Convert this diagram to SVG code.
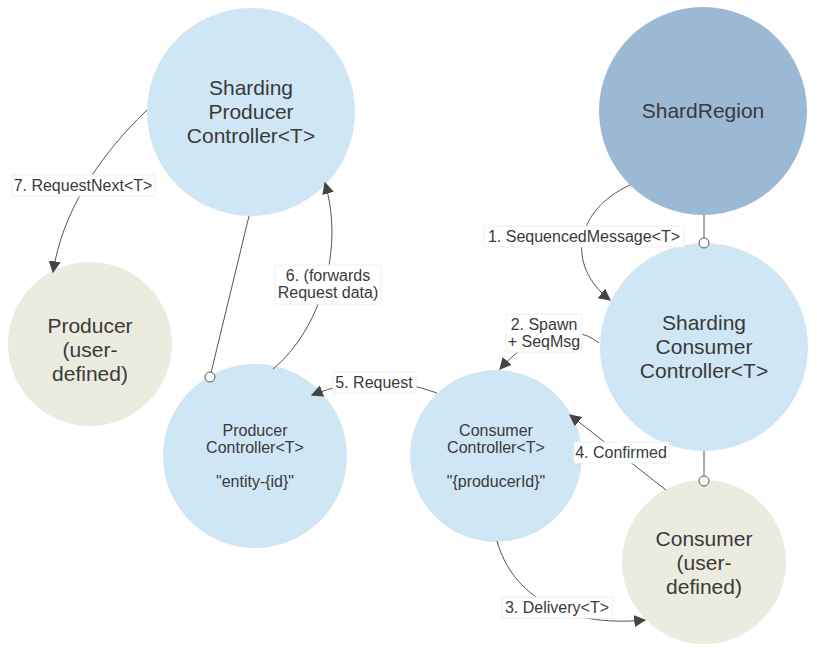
<svg xmlns="http://www.w3.org/2000/svg" width="817" height="659" viewBox="0 0 817 659">
<defs>
<style>
.n{fill:#cfe6f5}
.u{fill:#ebebdf}
.big{font-family:"Liberation Sans",Arial,sans-serif;font-size:21px;fill:#3a3a3a;text-anchor:middle}
.sm{font-family:"Liberation Sans",Arial,sans-serif;font-size:16px;fill:#3a3a3a;text-anchor:middle}
.lb{font-family:"Liberation Sans",Arial,sans-serif;font-size:16px;fill:#3a3a3a;text-anchor:middle}
.e{fill:none;stroke:#555;stroke-width:1}
.bg{fill:#fff;stroke:#f0f0f0;stroke-width:1}
.dot{fill:#fff;stroke:#555;stroke-width:1}
</style>
<marker id="ah" viewBox="0 0 10 10" refX="9" refY="5" markerWidth="12" markerHeight="12" markerUnits="userSpaceOnUse" orient="auto">
<path d="M0,0 L10,5 L0,10 z" fill="#444"/>
</marker>
</defs>
<rect width="817" height="659" fill="#fff"/>
<g id="n-spc"><circle class="n" cx="251" cy="112" r="104"/><text class="big"><tspan x="251" y="95">Sharding</tspan><tspan x="251" y="119">Producer</tspan><tspan x="251" y="143">Controller&lt;T&gt;</tspan></text></g>
<g id="n-sr"><circle cx="703" cy="111" r="104" fill="#9bb9d4"/><text class="big" x="703" y="118">ShardRegion</text></g>
<g id="n-prod"><circle class="u" cx="90" cy="344" r="82"/><text class="big"><tspan x="90" y="333">Producer</tspan><tspan x="90" y="357">(user-</tspan><tspan x="90" y="381">defined)</tspan></text></g>
<g id="n-pc"><circle class="n" cx="255" cy="456" r="92"/><text class="sm"><tspan x="255" y="436">Producer</tspan><tspan x="255" y="453">Controller&lt;T&gt;</tspan><tspan x="255" y="487">"entity-{id}"</tspan></text></g>
<g id="n-cc"><circle class="n" cx="496" cy="456" r="86"/><text class="sm"><tspan x="496" y="436">Consumer</tspan><tspan x="496" y="453">Controller&lt;T&gt;</tspan><tspan x="496" y="487">"{producerId}"</tspan></text></g>
<g id="n-scc"><circle class="n" cx="704" cy="347" r="104"/><text class="big"><tspan x="704" y="330">Sharding</tspan><tspan x="704" y="354">Consumer</tspan><tspan x="704" y="378">Controller&lt;T&gt;</tspan></text></g>
<g id="n-cons"><circle class="u" cx="704" cy="562" r="82"/><text class="big"><tspan x="704" y="546">Consumer</tspan><tspan x="704" y="570">(user-</tspan><tspan x="704" y="594">defined)</tspan></text></g>
<g id="edges">
<line class="e" x1="704" y1="215" x2="704" y2="243"/><circle class="dot" cx="704" cy="243" r="5"/>
<line class="e" x1="704" y1="451" x2="704" y2="481"/><circle class="dot" cx="704" cy="481" r="5"/>
<line class="e" x1="249" y1="216" x2="210" y2="377"/><circle class="dot" cx="210" cy="377" r="5"/>
<path class="e" d="M147,110 C95,160 62,215 53,272" marker-end="url(#ah)"/>
<rect class="bg" x="12" y="175" width="143" height="21"/><text class="lb" x="83" y="191">7. RequestNext&lt;T&gt;</text>
<path class="e" d="M630,185 C575,210 565,265 610,300" marker-end="url(#ah)"/>
<rect class="bg" x="484" y="226" width="200" height="21"/><text class="lb" x="584" y="242">1. SequencedMessage&lt;T&gt;</text>
<path class="e" d="M599,343 C570,320 530,335 500,369" marker-end="url(#ah)"/>
<rect class="bg" x="506" y="314" width="76" height="38"/><text class="lb"><tspan x="544" y="330">2. Spawn</tspan><tspan x="544" y="347">+ SeqMsg</tspan></text>
<path class="e" d="M437,393 Q375,370 312,395" marker-end="url(#ah)"/>
<rect class="bg" x="333" y="372" width="83" height="21"/><text class="lb" x="374" y="388">5. Request</text>
<path class="e" d="M273,369 C320,330 345,250 325,183" marker-end="url(#ah)"/>
<rect class="bg" x="275" y="265" width="106" height="39"/><text class="lb"><tspan x="328" y="281">6. (forwards</tspan><tspan x="328" y="298">Request data)</tspan></text>
<path class="e" d="M497,541 C512,595 565,628 645,620" marker-end="url(#ah)"/>
<rect class="bg" x="502" y="597" width="110" height="21"/><text class="lb" x="557" y="613">3. Delivery&lt;T&gt;</text>
<path class="e" d="M666,490 L570,415" marker-end="url(#ah)"/>
<rect class="bg" x="574" y="442" width="95" height="21"/><text class="lb" x="621" y="458">4. Confirmed</text>
</g>
</svg>
